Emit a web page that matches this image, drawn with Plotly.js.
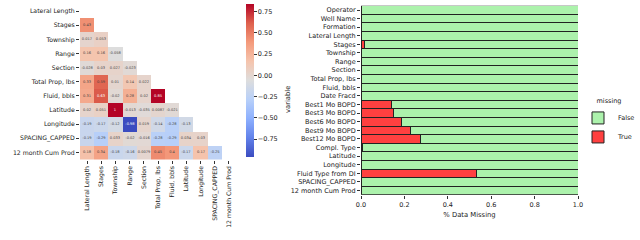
<!DOCTYPE html>
<html><head><meta charset="utf-8">
<script src="https://cdn.plot.ly/plotly-3.0.1.min.js"></script>
<style>html,body{margin:0;padding:0;background:#fff}#c{width:640px;height:240px}</style>
</head><body><div id="c"></div>
<script>
// ---- Correlation heatmap data (lower triangle, diagonal masked) ----
const corrVars = ["Lateral Length","Stages","Township","Range","Section","Total Prop, lbs","Fluid, bbls","Latitude","Longitude","SPACING_CAPPED","12 month Cum Prod"];
const corrRows = [
  [],
  [0.43],
  [0.017, 0.053],
  [0.16, 0.16, -0.058],
  [-0.028, 0.03, 0.027, -0.023],
  [0.33, 0.59, 0.01, 0.14, 0.022],
  [0.31, 0.63, -0.02, 0.28, 0.02, 0.85],
  [0.02, 0.051, 1, -0.013, -0.035, 0.0087, -0.021],
  [-0.19, -0.17, -0.12, -0.98, 0.019, -0.14, -0.28, -0.13],
  [-0.19, -0.29, 0.033, -0.02, -0.016, -0.28, -0.29, 0.034, 0.03],
  [0.18, 0.34, -0.18, -0.16, 0.0079, 0.45, 0.4, -0.17, 0.17, -0.25]
];
const cbarTicks = [-0.75, -0.5, -0.25, 0, 0.25, 0.5, 0.75];

// ---- Missing data fractions ----
const missVars = ["Operator","Well Name","Formation","Lateral Length","Stages","Township","Range","Section","Total Prop, lbs","Fluid, bbls","Date Fracd","Best1 Mo BOPD","Best3 Mo BOPD","Best6 Mo BOPD","Best9 Mo BOPD","Best12 Mo BOPD","Compl. Type","Latitude","Longitude","Fluid Type from DI","SPACING_CAPPED","12 month Cum Prod"];
const missTrue = [0,0,0,0,0.015,0,0,0,0,0,0,0.142,0.152,0.188,0.226,0.275,0.008,0,0,0.534,0,0];
const xTicks = [0, 0.2, 0.4, 0.6, 0.8, 1.0];

const n = corrVars.length;
const z = [], txt = [];
for (let i = 0; i < n; i++) {
  const zr = [], tr = [];
  for (let j = 0; j < n; j++) {
    if (j < corrRows[i].length) {
      const v = corrRows[i][j];
      zr.push(v); tr.push(String(Number(v.toPrecision(2))));
    } else { zr.push(null); tr.push(""); }
  }
  z.push(zr); txt.push(tr);
}
const missFalse = missTrue.map(v => 1 - v);

const coolwarm = [
  [0.0,"rgb(59,76,192)"],[0.125,"rgb(98,130,234)"],[0.25,"rgb(141,176,254)"],
  [0.375,"rgb(184,208,249)"],[0.5,"rgb(221,221,221)"],[0.625,"rgb(245,196,173)"],
  [0.75,"rgb(244,154,123)"],[0.875,"rgb(222,96,77)"],[1.0,"rgb(180,4,38)"]
];
const FONT = "DejaVu Sans, sans-serif";
const TC = "#222";

const traces = [
  {
    type: "heatmap", x: corrVars, y: corrVars, z: z, text: txt,
    texttemplate: "%{text}", textfont: {size: 3.6, family: FONT},
    colorscale: coolwarm, zmin: -0.96, zmax: 0.84,
    xaxis: "x", yaxis: "y", hoverongaps: false, showlegend: false,
    colorbar: {x: 246/640, xanchor: "left", xpad: 0, ypad: 0,
      y: (240-80.5)/240, yanchor: "middle",
      len: 153/240, lenmode: "fraction", thickness: 8, outlinewidth: 0,
      tickvals: cbarTicks, tickformat: ".2f", ticks: "outside", ticklen: 3, tickcolor: "#333",
      tickfont: {size: 6.5, family: FONT, color: TC}}
  },
  {
    type: "bar", orientation: "h", name: "True", y: missVars, x: missTrue,
    marker: {color: "rgb(255,64,64)", line: {color: "#222", width: 1}},
    xaxis: "x2", yaxis: "y2", legendrank: 2
  },
  {
    type: "bar", orientation: "h", name: "False", y: missVars, x: missFalse,
    marker: {color: "rgb(172,242,172)", line: {color: "#222", width: 1}},
    xaxis: "x2", yaxis: "y2", legendrank: 1
  }
];

const layout = {
  width: 640, height: 240, margin: {l: 0, r: 0, t: 0, b: 0},
  paper_bgcolor: "#fff", plot_bgcolor: "#fff",
  font: {family: FONT, color: TC, size: 6.5},
  barmode: "stack", bargap: 0,
  xaxis: {domain: [80/640, 236/640], anchor: "y", showgrid: false, zeroline: false,
    tickangle: -90, ticks: "outside", ticklen: 3, tickcolor: "#333",
    tickfont: {size: 6.2}, automargin: false},
  yaxis: {domain: [(240-159.5)/240, (240-4)/240], anchor: "x", autorange: "reversed",
    showgrid: false, zeroline: false, ticks: "outside", ticklen: 3, tickcolor: "#333",
    tickfont: {size: 6.2}, automargin: false},
  xaxis2: {domain: [361/640, 578/640], anchor: "y2", range: [0, 1], tickvals: xTicks,
    tickformat: ".1f", showgrid: false, zeroline: false, ticks: "outside", ticklen: 3,
    tickcolor: "#333", tickfont: {size: 6.5}, automargin: false,
    title: {text: "% Data Missing", font: {size: 6.8}, standoff: 4}},
  yaxis2: {domain: [(240-194.8)/240, (240-5.7)/240], anchor: "x2", range: [21.5, -0.5],
    showgrid: false, zeroline: false, ticks: "outside", ticklen: 3, tickcolor: "#333",
    tickfont: {size: 6.5}, automargin: false},
  annotations: [
    {text: "variable", xref: "paper", yref: "paper", x: 288/640, y: (240-100)/240,
     xanchor: "center", yanchor: "middle", textangle: -90, showarrow: false,
     font: {size: 6.8, family: FONT, color: TC}}
  ],
  legend: {x: 1, xanchor: "right", y: (240-95)/240, yanchor: "top", traceorder: "normal",
    title: {text: "missing", font: {size: 6.5}, side: "top center"},
    font: {size: 6.5}, bgcolor: "rgba(0,0,0,0)", itemwidth: 30, tracegroupgap: 0},
  showlegend: true
};

Plotly.newPlot("c", traces, layout, {staticPlot: true, displayModeBar: false});
</script></body></html>
